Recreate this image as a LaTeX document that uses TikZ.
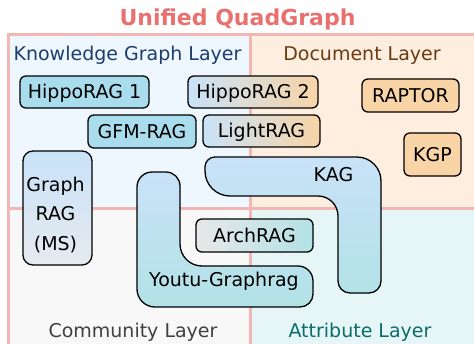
\documentclass[tikz,border=0pt]{standalone}
\usepackage{fontspec}
\setmainfont{DejaVu Sans}
\definecolor{qTL}{HTML}{EEF6FE}
\definecolor{qTR}{HTML}{FDEEDF}
\definecolor{qBL}{HTML}{F8F8F8}
\definecolor{qBR}{HTML}{E6F6F6}
\definecolor{frameC}{HTML}{F2B6B4}
\definecolor{titleC}{HTML}{E8706F}
\definecolor{kgC}{HTML}{1B3E6E}
\definecolor{docC}{HTML}{6B3A12}
\definecolor{comC}{HTML}{404040}
\definecolor{attC}{HTML}{0E6B6B}
\definecolor{skyC}{HTML}{A9DCEC}
\definecolor{peachC}{HTML}{F8D4A7}
\definecolor{lblueC}{HTML}{C9E2F8}
\definecolor{tealC}{HTML}{B2E2E6}
\definecolor{grayC}{HTML}{E8E8E8}
\definecolor{ggrayC}{HTML}{E6EAF0}
\begin{document}
\begin{tikzpicture}[x=1pt,y=-1pt,
  quad/.style={draw=frameC, line width=3pt},
  layer/.style={anchor=base, inner sep=0pt, font=\fontsize{19}{22}\selectfont},
  box/.style={draw=black, line width=1.3pt, rounded corners=6pt, inner sep=0pt,
    text height=13.9pt, text depth=0pt, font=\fontsize{19}{22}\selectfont},
  blob/.style={draw=black, line width=1.3pt, top color=lblueC, bottom color=tealC},
  txt/.style={inner sep=0pt, font=\fontsize{19}{22}\selectfont}]
\useasboundingbox (0,0) rectangle (474,343);
\begin{scope}
\clip (0,0) rectangle (474,343);
% quadrants
\fill[qTL] (8.5,34.5) rectangle (250,208.5);
\fill[qTR] (250,34.5) rectangle (480,208.5);
\fill[qBL] (8.5,208.5) rectangle (250,350);
\fill[qBR] (250,208.5) rectangle (480,350);
\draw[quad] (8.5,350) -- (8.5,34.5) -- (480,34.5);
\draw[quad] (250,34.5) -- (250,350);
\draw[quad] (8.5,208.5) -- (480,208.5);
\end{scope}
% title and layer labels
\node[anchor=base, inner sep=0pt, text=titleC, font=\fontsize{22}{26}\selectfont\bfseries] (title) at (237.5,25) {Unified QuadGraph};
\node[layer, text=kgC] (kgl) at (127.5,60) {Knowledge Graph Layer};
\node[layer, text=docC] (docl) at (362,60) {Document Layer};
\node[layer, text=comC] (coml) at (133,337) {Community Layer};
\node[layer, text=attC] (attl) at (360,337) {Attribute Layer};
% KAG shape
\draw[blob] (205,167) arc[start angle=180, end angle=270, radius=10]
  -- (357,157) arc[start angle=270, end angle=360, radius=24]
  -- (381,281) arc[start angle=0, end angle=90, radius=12]
  -- (350,293) arc[start angle=90, end angle=180, radius=12]
  -- (338,216) arc[start angle=0, end angle=-90, radius=20]
  -- (230,196) arc[start angle=90, end angle=180, radius=25]
  -- cycle;
\node[txt] (kag) at (333.5,174.5) {KAG};
% Youtu-Graphrag shape
\draw[blob] (137,187) arc[start angle=180, end angle=270, radius=15]
  -- (166,172) arc[start angle=270, end angle=360, radius=14]
  -- (180,244) arc[start angle=180, end angle=90, radius=22]
  -- (298,266) arc[start angle=270, end angle=360, radius=15]
  -- (313,294) arc[start angle=0, end angle=90, radius=13]
  -- (155,307) arc[start angle=90, end angle=180, radius=18]
  -- cycle;
\node[txt] (youtu) at (224,281.5) {Youtu-Graphrag};
% boxes
\node[box, fill=skyC, minimum width=129pt, minimum height=32pt] (h1) at (84.5,92) {HippoRAG 1};
\node[box, left color=lblueC, right color=peachC, minimum width=130pt, minimum height=32pt] (h2) at (253,92) {HippoRAG 2};
\node[box, fill=peachC, minimum width=97pt, minimum height=33pt] (raptor) at (410.5,95.5) {RAPTOR};
\node[box, fill=skyC, minimum width=108pt, minimum height=33pt] (gfm) at (142,131.5) {GFM-RAG};
\node[box, left color=lblueC, right color=peachC, minimum width=117pt, minimum height=32pt] (light) at (261.5,131) {LightRAG};
\node[box, fill=peachC, minimum width=57pt, minimum height=43pt] (kgp) at (432.5,154.5) {KGP};
\node[box, left color=grayC, right color=tealC, minimum width=117pt, minimum height=33pt] (arch) at (254.5,235.5) {ArchRAG};
\node[box, rounded corners=10pt, top color=lblueC, bottom color=ggrayC, minimum width=69pt, minimum height=114pt] (grag) at (57.5,208) {};
\node[txt, align=center, font=\fontsize{19}{29.5}\selectfont] (gragt) at (55.5,215) {Graph\\RAG\\(MS)};
\end{tikzpicture}
\end{document}
